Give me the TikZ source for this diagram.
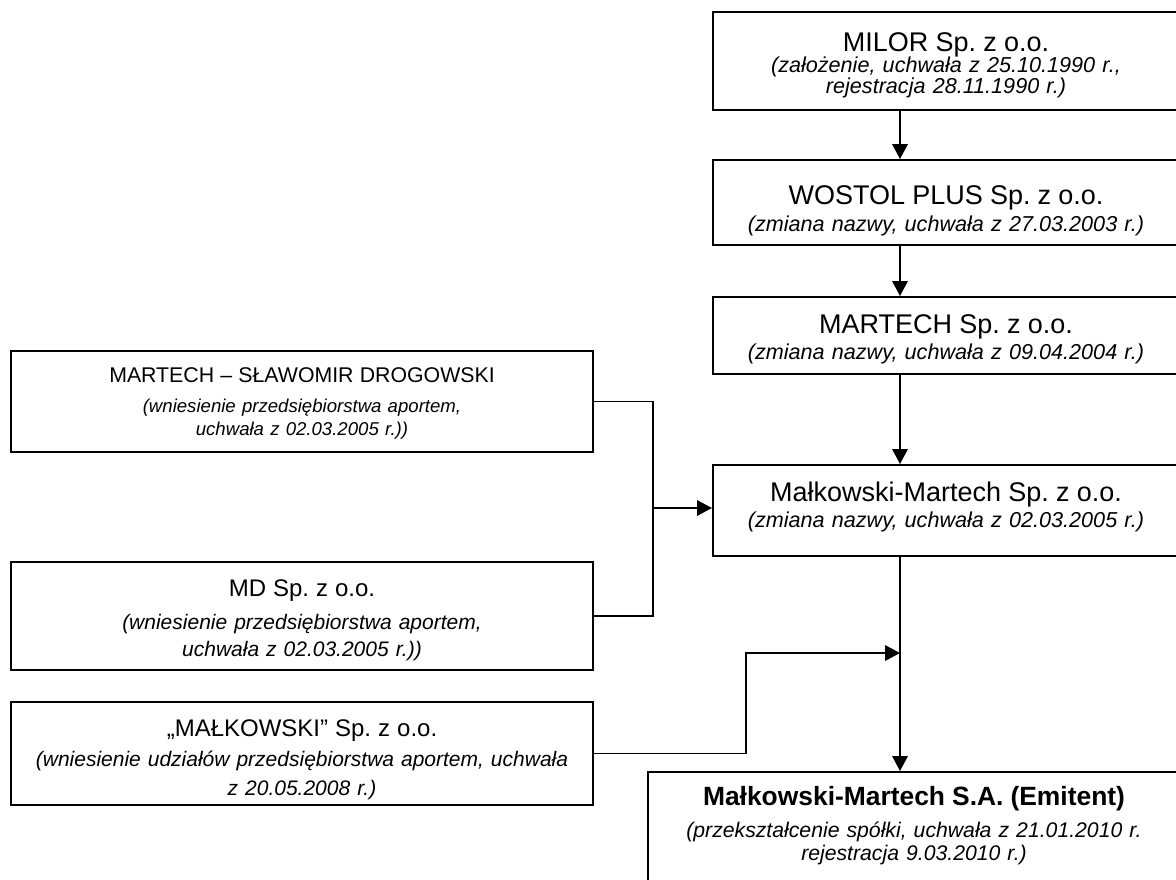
\documentclass[tikz,border=0pt]{standalone}
\usepackage{fontspec}
\setmainfont{Liberation Sans}
\usetikzlibrary{arrows.meta}

% font size + line pitch, no lineskip fallback
\newcommand\setfs[2]{\fontsize{#1}{#2}\selectfont\lineskiplimit=-20pt\relax}
% room above the first baseline / below the last one
\newcommand\padtop[1]{\rule{0pt}{#1}}
\newcommand\padbot[1]{\rule[-#1]{0pt}{#1}}

\tikzset{
  box/.style={draw, line width=1pt, inner sep=0pt, align=center},
  stage/.style={box, minimum width=233pt, text width=233pt},
  origin/.style={box, minimum width=291pt, text width=291pt},
  link/.style={line width=0.8pt},
  flow/.style={link, -{Triangle[length=7.5pt,width=7.8pt]}},
}

\begin{document}
\frenchspacing
\begin{tikzpicture}[x=0.5pt, y=-0.5pt]
\useasboundingbox (0,0) rectangle (1176,879);
\clip (0,0) rectangle (1176,879);

\coordinate (axis) at (900,0);

% history of the company
\node[stage, minimum height=49pt, font={\setfs{10.8}{10.6}\itshape}] (milor) at (946,61)
  {{\upshape\setfs{13.5}{10.6}\padtop{19.5pt}MILOR Sp. z o.o.}\\
   (założenie, uchwała z 25.10.1990 r.,\\
   rejestracja 28.11.1990 r.)\padbot{8.3pt}};

\node[stage, minimum height=42.5pt, font={\setfs{10.8}{13.85}\itshape}] (wostol) at (946,202.5)
  {{\upshape\setfs{13.5}{13.85}\padtop{22pt}WOSTOL PLUS Sp. z o.o.}\\
   (zmiana nazwy, uchwała z 27.03.2003 r.)\padbot{6.65pt}};

\node[stage, minimum height=38.5pt, font={\setfs{10.8}{13}\itshape}] (martech) at (946,335.5)
  {{\upshape\setfs{13.5}{13}\padtop{18pt}MARTECH Sp. z o.o.}\\
   (zmiana nazwy, uchwała z 09.04.2004 r.)\padbot{7.5pt}};

\node[stage, minimum height=45.5pt, font={\setfs{10.8}{13}\itshape}] (malsp) at (946,510.5)
  {{\upshape\setfs{13.5}{13}\padtop{18.35pt}Małkowski-Martech Sp. z o.o.}\\
   (zmiana nazwy, uchwała z 02.03.2005 r.)\padbot{14.15pt}};

% contributed businesses
\node[origin, minimum height=50.5pt, font={\setfs{9.3}{11.15}\itshape}] (sl) at (302,401.5)
  {{\upshape\setfs{10.65}{11.15}\padtop{15.5pt}MARTECH – SŁAWOMIR DROGOWSKI}\\[4.2pt]
   (wniesienie przedsiębiorstwa aportem,\\
   uchwała z 02.03.2005 r.))\padbot{8.5pt}};

\node[origin, minimum height=54pt, font={\setfs{10.5}{13.85}\itshape}] (md) at (302,616)
  {{\upshape\setfs{12}{13.85}\padtop{17pt}MD Sp. z o.o.}\\[2.65pt]
   (wniesienie przedsiębiorstwa aportem,\\
   uchwała z 02.03.2005 r.))\padbot{6.65pt}};

\node[origin, minimum height=51.5pt, font={\setfs{10.5}{14.15}\itshape}] (malk) at (302,753.5)
  {{\upshape\setfs{12}{14.15}\padtop{17pt}„MAŁKOWSKI” Sp. z o.o.}\\[1.2pt]
   (wniesienie udziałów przedsiębiorstwa aportem, uchwała\\
   z 20.05.2008 r.)\padbot{5pt}};

\node[box, minimum width=266pt, text width=266pt, minimum height=64pt,
      font={\setfs{10.6}{11.25}\itshape}] (emitent) at (914,836)
  {{\upshape\bfseries\setfs{13.2}{11.25}\padtop{16.5pt}Małkowski-Martech S.A. (Emitent)}\\[5pt]
   (przekształcenie spółki, uchwała z 21.01.2010 r.\\
   rejestracja 9.03.2010 r.)\padbot{20pt}};

% connectors
\draw[flow] (milor.south -| axis) -- (wostol.north -| axis);
\draw[flow] (wostol.south -| axis) -- (martech.north -| axis);
\draw[flow] (martech.south -| axis) -- (malsp.north -| axis);

\coordinate (jn) at (653,508);
\draw[link] (sl.east) -| (jn) |- (md.east);
\draw[flow] (jn) -- (jn -| malsp.west);

\coordinate (bend) at (746,653);
\draw[flow] (malk.east) -| (bend) -- (bend -| axis);
\draw[flow] (malsp.south -| axis) -- (emitent.north -| axis);

\end{tikzpicture}
\end{document}
